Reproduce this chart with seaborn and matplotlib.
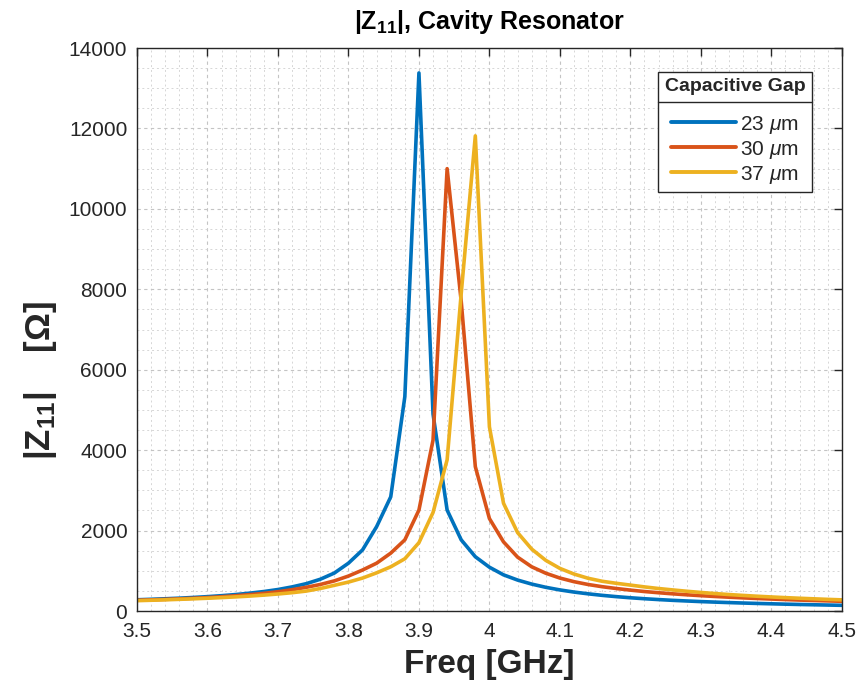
import numpy as np
import pandas as pd
import matplotlib
matplotlib.use("Agg")
import matplotlib.pyplot as plt
from matplotlib.ticker import MultipleLocator, FuncFormatter
from matplotlib.lines import Line2D
import seaborn as sns

# ---------------- data ----------------
freq_ghz = [round(3.50 + 0.02 * i, 2) for i in range(51)]

z_23um = [280, 292, 305, 320, 338, 358, 382, 410, 445, 485,
          535, 600, 680, 790, 945, 1190, 1520, 2100, 2840, 5330,
          13380, 4900, 2510, 1770, 1350, 1090, 900, 770, 670, 590,
          525, 472, 428, 390, 358, 330, 306, 285, 266, 250,
          235, 222, 210, 199, 189, 180, 171, 163, 156, 149, 142]

z_30um = [268, 278, 290, 303, 318, 335, 356, 380, 408, 440,
          480, 530, 590, 660, 750, 870, 1020, 1190, 1440, 1770,
          2510, 4250, 11000, 7700, 3590, 2300, 1720, 1340, 1100, 940,
          820, 730, 660, 605, 560, 520, 485, 455, 428, 404,
          382, 362, 344, 327, 312, 298, 285, 273, 262, 252, 242]

z_37um = [258, 268, 279, 291, 304, 318, 334, 352, 372, 396,
          424, 456, 496, 560, 640, 720, 820, 950, 1100, 1300,
          1700, 2450, 3760, 7900, 11815, 4580, 2680, 1950, 1540, 1260,
          1060, 920, 815, 740, 690, 645, 600, 560, 525, 492,
          462, 435, 410, 388, 368, 350, 333, 318, 304, 290, 278]

gap_labels = [r"23 $\mu$m", r"30 $\mu$m", r"37 $\mu$m"]
line_colors = ["#0072BD", "#D95319", "#EDB120"]
x_ticks = [3.5, 3.6, 3.7, 3.8, 3.9, 4.0, 4.1, 4.2, 4.3, 4.4, 4.5]
y_ticks = [0, 2000, 4000, 6000, 8000, 10000, 12000, 14000]

df = pd.concat([
    pd.DataFrame({"freq": freq_ghz, "z": vals, "gap": lab})
    for vals, lab in zip([z_23um, z_30um, z_37um], gap_labels)
], ignore_index=True)

# ---------------- style ----------------
sns.set_theme(style="white")
plt.rcParams["font.family"] = ["Liberation Sans", "DejaVu Sans"]
plt.rcParams["mathtext.fontset"] = "custom"
plt.rcParams["mathtext.rm"] = "Liberation Sans"
plt.rcParams["mathtext.it"] = "Liberation Sans:italic"
plt.rcParams["mathtext.bf"] = "Liberation Sans:bold"

axcol = "#262626"
fig = plt.figure(figsize=(8.59, 6.92), dpi=100)
ax = fig.add_axes([0.1595, 0.117, 0.8205, 0.8136])

sns.lineplot(data=df, x="freq", y="z", hue="gap", palette=line_colors,
             linewidth=2.6, ax=ax, estimator=None, sort=False)

ax.set_xlim(3.5, 4.5)
ax.set_ylim(0, 14000)
ax.set_xticks(x_ticks)
ax.set_yticks(y_ticks)
ax.xaxis.set_major_formatter(FuncFormatter(lambda v, p: f"{v:g}"))
ax.xaxis.set_minor_locator(MultipleLocator(0.02))
ax.yaxis.set_minor_locator(MultipleLocator(500))

ax.tick_params(which="major", direction="in", length=6, width=1.0,
               top=True, right=True, labelsize=15, colors=axcol)
ax.tick_params(axis="x", which="major", pad=8)
ax.tick_params(axis="y", which="major", pad=7)
ax.tick_params(which="minor", length=0, top=True, right=True)

ax.grid(True, which="major", linestyle=(0, (3, 3)), color="#c4c4c4", linewidth=0.8)
ax.grid(True, which="minor", linestyle=(0, (2, 3)), color="#d6d6d6", linewidth=0.7)
ax.set_axisbelow(True)

for s in ax.spines.values():
    s.set_color(axcol)
    s.set_linewidth(1.0)
    s.set_visible(True)

ax.set_xlabel("Freq [GHz]", fontsize=24, fontweight="bold", color=axcol)
ax.xaxis.set_label_coords(0.5, -0.068)
ax.set_ylabel(r"$\mathbf{|Z_{11}|}$    [Ω]", fontsize=25, fontweight="bold", color=axcol)
ax.yaxis.set_label_coords(-0.11, 0.41)
ax.set_title(r"$\mathbf{|Z_{11}|}$, Cavity Resonator", fontsize=18, fontweight="bold",
             color="black", pad=14)

leg = ax.legend(title="Capacitive Gap", loc="upper right", bbox_to_anchor=(0.957, 0.957),
                borderaxespad=0.0,
                fontsize=15, title_fontproperties={"weight": "bold", "size": 14},
                frameon=True, fancybox=False, edgecolor=axcol, framealpha=1,
                handlelength=3.1, borderpad=0.3, labelspacing=0.15, handletextpad=0.2)
leg._legend_box.sep = 13
leg.get_frame().set_linewidth(1.0)
for line in leg.get_lines():
    line.set_linewidth(2.8)

# separator line below legend title
fig.canvas.draw()
lb = leg.get_window_extent()
tb = leg.get_title().get_window_extent()
ysep = tb.y0 - 7
inv = fig.transFigure.inverted()
(x0f, yf) = inv.transform((lb.x0, ysep))
(x1f, _) = inv.transform((lb.x1, ysep))
fig.add_artist(Line2D([x0f, x1f], [yf, yf], color=axcol, linewidth=1.0,
                      transform=fig.transFigure))

fig.savefig("out.png", dpi=100, facecolor="white")
